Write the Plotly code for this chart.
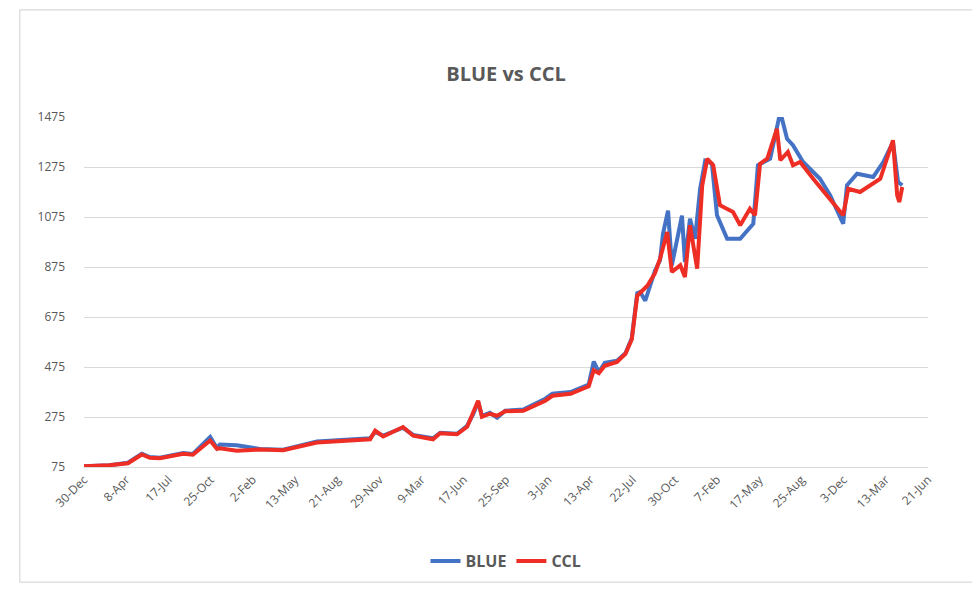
import pandas as pd
import plotly.graph_objects as go

START = "2019-12-30"
blue_days = [0, 60, 104, 137, 156, 180, 235, 258, 299, 315, 322, 362, 417, 472, 552, 630, 678, 690, 709, 756, 780, 827, 844, 884, 908, 922, 934, 943, 962, 979, 998, 1041, 1093, 1110, 1153, 1196, 1208, 1220, 1234, 1263, 1283, 1298, 1311,
             1318, 1330, 1353, 1365, 1372, 1384, 1393, 1404, 1417, 1424, 1436, 1448, 1460, 1472, 1488, 1500, 1524, 1555, 1586, 1597, 1626, 1650, 1666, 1680, 1704, 1744, 1768, 1799, 1808, 1832, 1870, 1894, 1917, 1929, 1939]
blue_vals = [78, 82, 92, 128, 115, 112, 131, 127, 195, 151, 165, 162, 147, 144, 177, 184, 190, 215, 201, 232, 203, 190, 212, 208, 240, 285, 335, 280, 292, 272, 300, 305, 348, 368, 375, 405, 497, 455, 492, 500, 530, 590, 770,
             775, 740, 860, 902, 1008, 1100, 882, 975, 1080, 895, 1068, 988, 1188, 1300, 1288, 1082, 988, 988, 1048, 1282, 1308, 1495, 1388, 1362, 1295, 1228, 1162, 1048, 1202, 1248, 1235, 1295, 1375, 1215, 1202]
ccl_days = [0, 60, 104, 137, 156, 180, 235, 258, 299, 315, 322, 362, 417, 472, 552, 630, 678, 690, 709, 756, 780, 827, 844, 884, 908, 922, 934, 943, 962, 979, 998, 1041, 1093, 1110, 1153, 1196, 1208, 1220, 1234, 1263, 1283, 1298, 1311,
            1335, 1353, 1365, 1382, 1393, 1413, 1424, 1436, 1453, 1465, 1477, 1491, 1507, 1538, 1555, 1578, 1590, 1602, 1619, 1642, 1650, 1668, 1680, 1697, 1728, 1761, 1799, 1811, 1839, 1887, 1917, 1927, 1932, 1939]
ccl_vals = [78, 82, 90, 125, 112, 110, 128, 124, 181, 148, 150, 140, 145, 142, 173, 180, 186, 220, 197, 235, 200, 186, 210, 206, 236, 292, 340, 276, 288, 280, 298, 300, 340, 360, 368, 398, 462, 450, 480, 495, 528, 585, 760,
            800, 850, 908, 1015, 855, 882, 835, 1042, 868, 1202, 1308, 1282, 1122, 1095, 1042, 1108, 1082, 1288, 1308, 1428, 1302, 1335, 1282, 1295, 1228, 1162, 1082, 1188, 1175, 1228, 1382, 1162, 1135, 1195]
tick_days = list(range(0, 2001, 100))

base = pd.Timestamp(START)
bx = [base + pd.Timedelta(days=d) for d in blue_days]
cx = [base + pd.Timedelta(days=d) for d in ccl_days]
tx = [base + pd.Timedelta(days=d) for d in tick_days]

fig = go.Figure()
fig.add_trace(go.Scatter(x=bx, y=blue_vals, name="<b>BLUE</b>", mode="lines", line=dict(color="#4472C4", width=4)))
fig.add_trace(go.Scatter(x=cx, y=ccl_vals, name="<b>CCL</b>", mode="lines", line=dict(color="#EE2E24", width=4)))
fig.update_layout(
    width=980, height=593, paper_bgcolor="white", plot_bgcolor="white",
    font=dict(family="Open Sans", color="#595959", size=12),
    title=dict(text="<b>BLUE vs CCL</b>", x=0.5, xref="paper", y=0.90, xanchor="center", font=dict(size=20, color="#595959")),
    margin=dict(l=76, r=60, t=109, b=134, autoexpand=False),
    legend=dict(orientation="h", x=0.5, xanchor="center", y=-0.22, font=dict(size=16, color="#595959")),
    showlegend=True,
)
fig.update_xaxes(tickvals=tx, ticktext=[t.strftime("%-d-%b") for t in tx], tickangle=-45, automargin=False,
                 range=[tx[0], tx[-1]], showgrid=False, showline=True, linecolor="#d9d9d9", ticks="")
fig.update_yaxes(range=[75, 1475], tickvals=list(range(75, 1476, 200)), showgrid=True, gridcolor="#d9d9d9",
                 zeroline=False, ticks="", ticklabelstandoff=18, automargin=False)
fig.add_shape(type="rect", xref="paper", yref="paper", x0=-0.076, x1=1.056, y0=-0.329, y1=1.306,
              line=dict(color="#d0d0d0", width=1))
fig.write_html("out.html")
